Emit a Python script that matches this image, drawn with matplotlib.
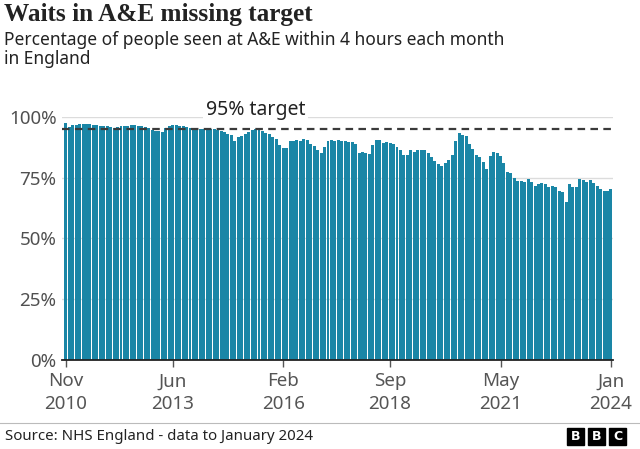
import matplotlib
matplotlib.use("Agg")
import matplotlib.pyplot as plt
from matplotlib.patches import Rectangle

# Monthly share of A&E attendances seen within 4 hours, Nov 2010 - Jan 2024
pct_2010 = [97.4, 96.0]
pct_2011 = [96.6, 96.8, 97.0, 97.1, 97.3, 97.2, 96.9, 96.7, 96.5, 96.3, 96.2, 96.0]
pct_2012 = [95.6, 95.8, 96.1, 96.4, 96.5, 96.7, 96.6, 96.4, 96.1, 95.8, 95.5, 94.6]
pct_2013 = [94.2, 94.3, 93.8, 95.4, 96.4, 96.9, 96.6, 96.5, 96.2, 95.9, 95.6, 95.3]
pct_2014 = [95.0, 95.2, 95.0, 94.6, 94.9, 95.0, 94.8, 94.4, 93.8, 93.2, 92.4, 90.2]
pct_2015 = [91.6, 92.0, 92.9, 93.8, 94.6, 95.2, 95.0, 94.3, 93.6, 93.0, 91.6, 91.1]
pct_2016 = [88.5, 87.4, 87.1, 90.0, 90.3, 90.4, 90.2, 90.8, 90.4, 88.7, 88.2, 86.3]
pct_2017 = [85.1, 87.7, 90.3, 90.4, 90.2, 90.7, 90.3, 90.0, 89.6, 89.6, 88.8, 85.2]
pct_2018 = [85.4, 85.0, 84.6, 88.5, 90.6, 90.4, 89.4, 89.7, 89.1, 89.0, 87.6, 86.4]
pct_2019 = [84.4, 84.2, 86.6, 85.4, 86.6, 86.5, 86.4, 85.0, 83.5, 82.0, 80.8, 79.8]
pct_2020 = [81.2, 82.3, 84.4, 90.3, 93.5, 92.6, 92.2, 88.9, 86.7, 84.4, 83.7, 81.6]
pct_2021 = [78.5, 84.0, 85.7, 85.0, 84.0, 81.2, 77.5, 76.8, 74.8, 73.8, 73.8, 73.4]
pct_2022 = [74.4, 73.4, 71.6, 72.3, 73.0, 72.3, 71.1, 71.7, 71.1, 69.5, 69.0, 65.0]
pct_2023 = [72.4, 71.3, 71.3, 74.5, 74.0, 73.1, 74.0, 73.0, 71.6, 70.2, 69.7, 69.4]
pct_2024 = [70.2]

values = (pct_2010 + pct_2011 + pct_2012 + pct_2013 + pct_2014 + pct_2015
          + pct_2016 + pct_2017 + pct_2018 + pct_2019 + pct_2020 + pct_2021
          + pct_2022 + pct_2023 + pct_2024)
months = list(range(len(values)))

tick_months = [0, 31, 63, 94, 126, 158]
tick_labels = ["Nov\n2010", "Jun\n2013", "Feb\n2016", "Sep\n2018", "May\n2021", "Jan\n2024"]
y_ticks = [0, 25, 50, 75, 100]
target = 95

W, H = 640, 449
fig = plt.figure(figsize=(W / 100, H / 100), dpi=100)
ax = fig.add_axes([62 / W, 1 - 360 / H, (613 - 62) / W, (360 - 117) / H])

bar_color = "#1a86a6"
ax.bar(months, values, width=0.86, color=bar_color, zorder=2)

# 95% target line
ax.axhline(target, color="#3a3a3a", lw=1.6, linestyle=(0, (3.4, 2.4)), zorder=4)
ax.text(55, 98.6, "95% target", fontsize=14, family="Noto Sans", color="#222222",
        ha="center", va="bottom", zorder=5,
        bbox=dict(facecolor="white", edgecolor="none", pad=2))

ax.set_xlim(-1.1, 158.6)
ax.set_ylim(0, 100)
ax.set_yticks(y_ticks)
ax.set_yticklabels([f"{v}%" for v in y_ticks])
ax.set_xticks(tick_months)
ax.set_xticklabels(tick_labels)

ax.grid(axis="y", color="#dcdcdc", lw=1, zorder=0)
for s in ["left", "right", "top"]:
    ax.spines[s].set_visible(False)
ax.spines["bottom"].set_color("#222222")
ax.spines["bottom"].set_linewidth(1.3)
ax.spines["bottom"].set_zorder(6)

ax.tick_params(axis="y", length=0, pad=4, labelsize=13.5, labelcolor="#505050")
ax.tick_params(axis="x", length=5, width=1, color="#555555", pad=4,
               labelsize=13.5, labelcolor="#555555")
for lab in ax.get_xticklabels() + ax.get_yticklabels():
    lab.set_family("Noto Sans")
for lab in ax.get_xticklabels():
    lab.set_linespacing(1.3)

# titles
fig.text(4 / W, 1 - 3 / H, "Waits in A&E missing target", fontsize=18.2, family="Liberation Serif",
         weight="bold", color="#222222", ha="left", va="top")
fig.text(4 / W, 1 - 31 / H, "Percentage of people seen at A&E within 4 hours each month\nin England",
         fontsize=12.5, family="Noto Sans", color="#222222", ha="left", va="top", linespacing=1.1)

# footer
fig.add_artist(plt.Line2D([0, 1], [1 - 423 / H, 1 - 423 / H], color="#bbbbbb", lw=0.8))
fig.text(5 / W, 1 - 437 / H, "Source: NHS England - data to January 2024", fontsize=10.8,
         family="Noto Sans", color="#222222", ha="left", va="center")
for i, letter in enumerate("BBC"):
    x0 = 567 + i * 21
    fig.add_artist(Rectangle((x0 / W, 1 - 445 / H), 17 / W, 17 / H,
                             transform=fig.transFigure, color="black"))
    fig.text((x0 + 8.5) / W, 1 - 436.5 / H, letter, fontsize=9, weight="bold",
             color="white", ha="center", va="center", family="DejaVu Sans")

fig.savefig("out.png", dpi=100)
